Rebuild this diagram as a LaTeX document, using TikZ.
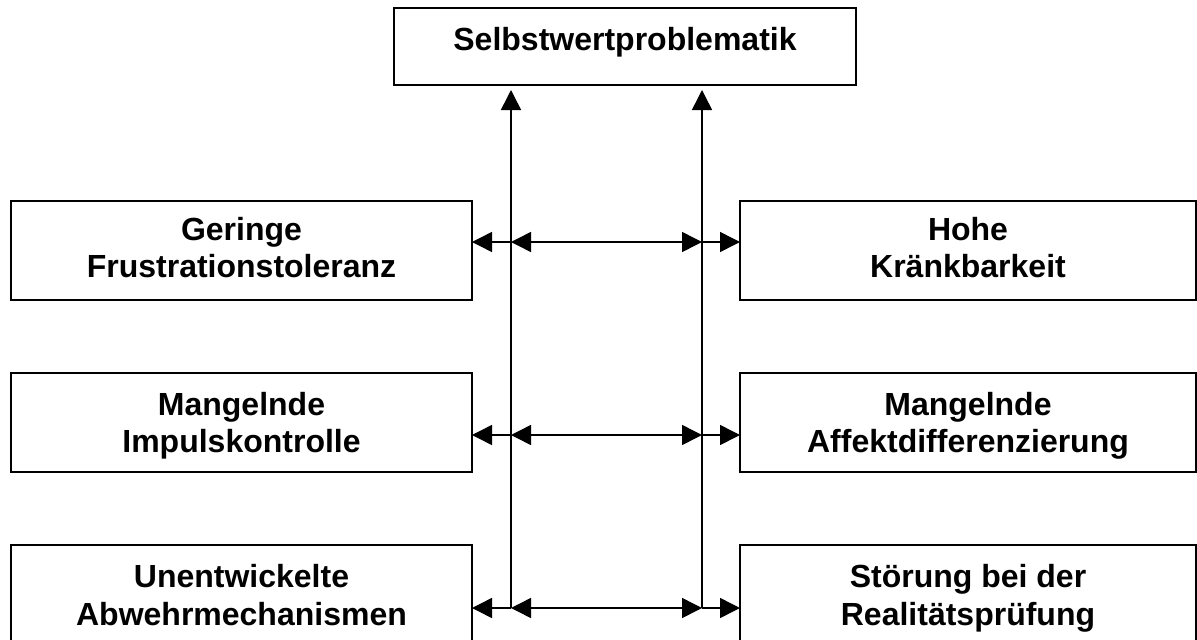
\documentclass[tikz,border=0pt]{standalone}
\usepackage{fontspec}
\setmainfont{Liberation Sans}
\usetikzlibrary{arrows.meta}
\begin{document}
\begin{tikzpicture}[x=1pt,y=-1pt,
  box/.style={draw=black, line width=2pt, rectangle, anchor=north west, inner sep=0pt, outer sep=0pt},
  txt/.style={anchor=base, inner sep=0pt, font=\fontsize{32}{37}\selectfont\bfseries},
  con/.style={line width=1.5pt, draw=black},
  tip/.style={-{Triangle[length=20pt,width=20pt]}},
  dtip/.style={{Triangle[length=20pt,width=20pt]}-{Triangle[length=20pt,width=20pt]}}]
\useasboundingbox (0,0) rectangle (1197,640);
% boxes
\node[box, minimum width=462pt, minimum height=77pt] (top) at (394,8) {};
\node[box, minimum width=461pt, minimum height=99pt] (L1) at (11,201) {};
\node[box, minimum width=461pt, minimum height=99pt] (L2) at (11,373) {};
\node[box, minimum width=461pt, minimum height=99pt] (L3) at (11,545) {};
\node[box, minimum width=456pt, minimum height=99pt] (R1) at (740,201) {};
\node[box, minimum width=456pt, minimum height=99pt] (R2) at (740,373) {};
\node[box, minimum width=456pt, minimum height=99pt] (R3) at (740,545) {};
% texts
\node[txt] (ttop) at (625,50) {Selbstwertproblematik};
\node[txt] (tl1a) at (241.5,240) {Geringe};
\node[txt] (tl1b) at (241.5,277) {Frustrationstoleranz};
\node[txt] (tl2a) at (241.5,415) {Mangelnde};
\node[txt] (tl2b) at (241.5,452) {Impulskontrolle};
\node[txt] (tl3a) at (241.5,587) {Unentwickelte};
\node[txt] (tl3b) at (241.5,625) {Abwehrmechanismen};
\node[txt] (tr1a) at (968,240) {Hohe};
\node[txt] (tr1b) at (968,277) {Kränkbarkeit};
\node[txt] (tr2a) at (968,415) {Mangelnde};
\node[txt] (tr2b) at (968,452) {Affektdifferenzierung};
\node[txt] (tr3a) at (968,587) {Störung bei der};
\node[txt] (tr3b) at (968,625) {Realitätsprüfung};
% junction coordinates
\coordinate (a1) at (511,242);
\coordinate (b1) at (702,242);
\coordinate (a2) at (511,435);
\coordinate (b2) at (702,435);
\coordinate (a3) at (511,608);
\coordinate (b3) at (702,608);
% vertical connectors
\draw[con, tip, shorten >=5pt] (a3) -- (a3 |- top.south);
\draw[con, tip, shorten >=5pt] (b3) -- (b3 |- top.south);
% horizontal connectors
\foreach \i/\L/\R in {1/L1/R1, 2/L2/R2, 3/L3/R3}{
  \draw[con, tip] (a\i) -- (a\i -| \L.east);
  \draw[con, dtip] (a\i) -- (b\i);
  \draw[con, tip] (b\i) -- (b\i -| \R.west);
}
\end{tikzpicture}
\end{document}
